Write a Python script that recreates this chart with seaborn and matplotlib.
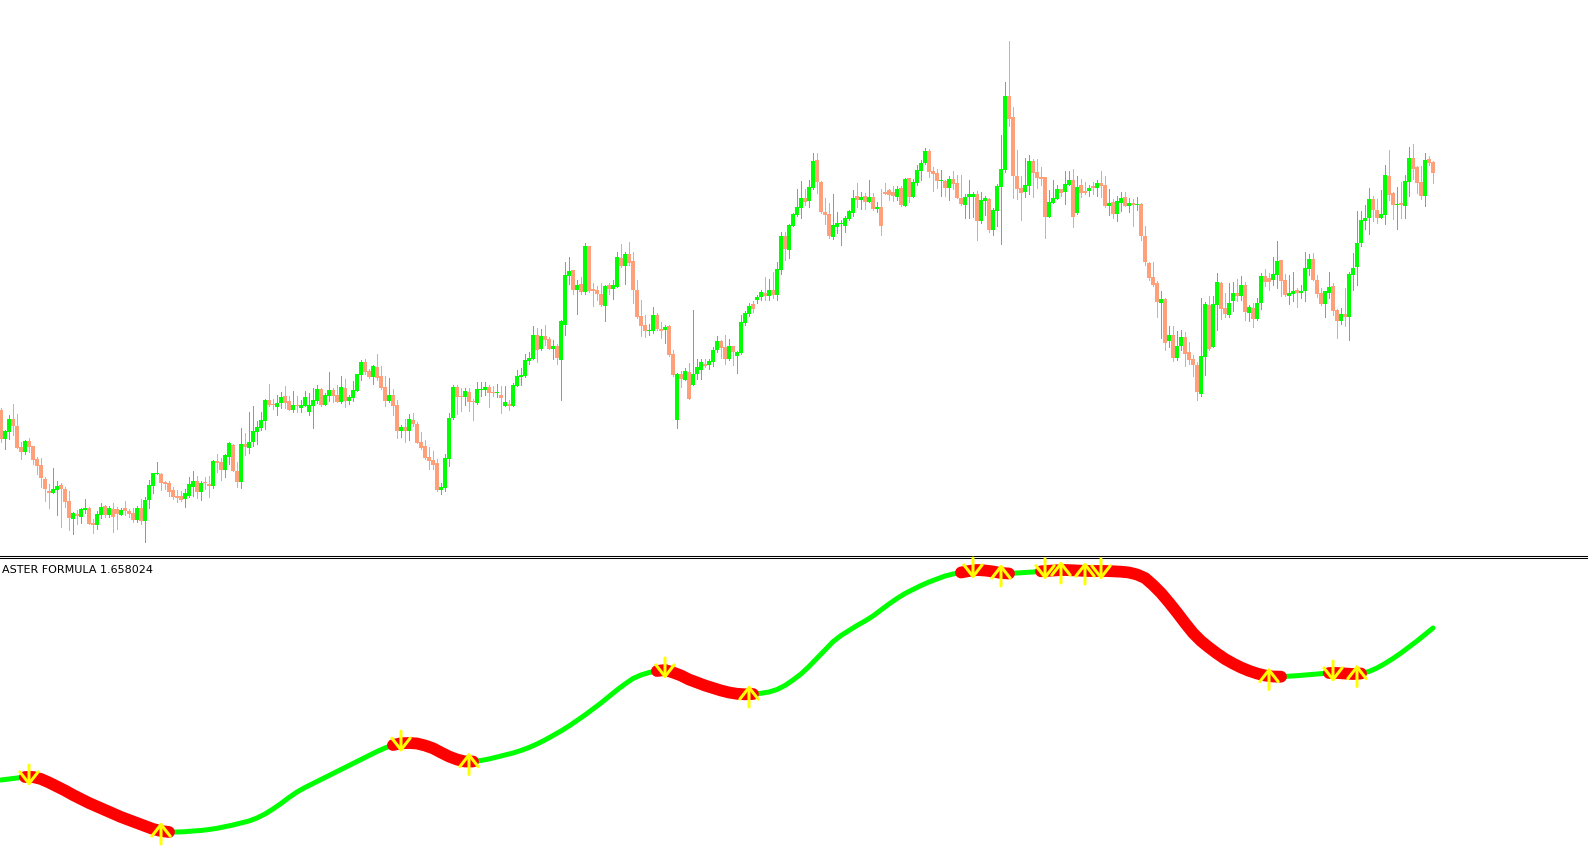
import matplotlib
matplotlib.use('Agg')
import matplotlib.pyplot as plt
import matplotlib.transforms as mtransforms
import seaborn as sns
import pandas as pd
import numpy as np

#candles, one per bar (price units)
opens = [
    190, 161, 168, 181, 174, 153, 148, 159, 154, 141,
    135, 121, 109, 107, 110, 115, 111, 99, 81, 86,
    83, 90, 92, 77, 75, 85, 94, 85, 91, 91,
    85, 92, 89, 87, 80, 92, 79, 100, 114, 126,
    126, 118, 117, 110, 104, 104, 101, 104, 113, 119,
    108, 118, 116, 114, 139, 138, 130, 143, 155, 129,
    118, 156, 152, 158, 168, 172, 179, 200, 196, 193,
    197, 204, 199, 190, 195, 192, 194, 188, 194, 199,
    211, 195, 204, 210, 205, 198, 212, 199, 202, 209,
    225, 238, 229, 223, 233, 224, 213, 199, 205, 195,
    169, 173, 169, 180, 176, 158, 154, 143, 140, 137,
    110, 112, 141, 182, 213, 204, 203, 208, 199, 197,
    210, 210, 213, 208, 207, 205, 194, 196, 194, 214,
    223, 224, 239, 241, 265, 251, 264, 261, 251, 254,
    240, 275, 324, 330, 310, 316, 308, 354, 311, 310,
    306, 294, 315, 311, 313, 342, 334, 346, 339, 310,
    284, 275, 269, 269, 285, 271, 270, 274, 246, 180,
    226, 220, 228, 215, 226, 230, 236, 235, 238, 250,
    259, 253, 241, 254, 244, 247, 277, 286, 296, 300,
    303, 307, 304, 310, 305, 330, 364, 350, 374, 385,
    392, 402, 399, 412, 440, 418, 388, 386, 363, 373,
    376, 374, 381, 387, 404, 400, 404, 398, 403, 391,
    393, 408, 410, 408, 403, 412, 394, 422, 403, 417,
    429, 437, 449, 429, 427, 419, 419, 412, 421, 417,
    402, 395, 403, 403, 406, 379, 399, 401, 370, 389,
    413, 430, 504, 483, 424, 412, 408, 414, 439, 428,
    423, 423, 383, 397, 401, 411, 408, 415, 420, 387,
    415, 409, 409, 414, 412, 417, 415, 394, 398, 386,
    397, 403, 394, 397, 395, 396, 364, 337, 323, 317,
    297, 301, 259, 265, 242, 254, 263, 248, 241, 235,
    206, 243, 295, 253, 295, 317, 292, 285, 299, 307,
    304, 315, 287, 292, 281, 297, 324, 322, 320, 325,
    340, 320, 304, 306, 310, 307, 309, 331, 341, 320,
    307, 296, 307, 314, 290, 279, 286, 283, 325, 333,
    357, 379, 382, 401, 390, 382, 385, 424, 407, 395,
    397, 394, 418, 442, 433, 418, 404, 441, 438,
]
highs = [
    192, 170, 185, 196, 186, 158, 160, 162, 154, 143,
    142, 123, 116, 132, 119, 117, 113, 109, 88, 90,
    92, 101, 93, 81, 89, 97, 95, 94, 97, 93,
    92, 99, 91, 92, 94, 101, 103, 120, 127, 138,
    127, 119, 119, 113, 110, 109, 111, 123, 129, 124,
    119, 123, 124, 140, 146, 142, 146, 158, 156, 138,
    172, 167, 188, 194, 179, 188, 201, 216, 201, 205,
    208, 214, 204, 209, 204, 200, 209, 207, 212, 215,
    212, 207, 228, 212, 215, 224, 221, 205, 219, 226,
    240, 241, 231, 235, 246, 234, 224, 222, 211, 200,
    175, 181, 186, 187, 178, 168, 160, 153, 149, 141,
    117, 146, 187, 215, 215, 212, 212, 212, 201, 218,
    218, 218, 215, 214, 216, 214, 214, 200, 217, 230,
    232, 246, 248, 274, 272, 271, 275, 263, 260, 256,
    280, 338, 343, 330, 320, 323, 357, 354, 317, 314,
    317, 315, 317, 320, 348, 356, 348, 358, 348, 320,
    300, 285, 276, 293, 287, 278, 275, 275, 250, 227,
    229, 232, 237, 290, 241, 241, 241, 241, 253, 264,
    260, 265, 261, 254, 249, 285, 289, 297, 299, 305,
    310, 323, 321, 328, 338, 368, 368, 376, 387, 411,
    419, 411, 420, 447, 447, 419, 402, 397, 406, 388,
    380, 384, 390, 410, 417, 408, 407, 420, 407, 398,
    411, 417, 411, 414, 414, 414, 422, 422, 421, 435,
    440, 452, 451, 433, 431, 430, 420, 424, 429, 425,
    425, 406, 420, 408, 409, 408, 404, 402, 392, 416,
    465, 518, 559, 493, 450, 424, 442, 445, 441, 441,
    433, 423, 410, 420, 415, 411, 429, 429, 431, 424,
    421, 418, 415, 418, 420, 429, 424, 411, 401, 404,
    408, 408, 402, 401, 403, 397, 374, 338, 338, 319,
    309, 302, 274, 274, 269, 270, 268, 258, 245, 238,
    302, 298, 304, 304, 327, 318, 307, 317, 318, 321,
    324, 318, 295, 297, 302, 327, 331, 327, 343, 359,
    340, 326, 325, 328, 312, 315, 348, 346, 347, 325,
    312, 309, 328, 317, 291, 292, 312, 328, 347, 389,
    389, 395, 412, 404, 401, 410, 435, 450, 408, 413,
    418, 425, 453, 456, 434, 434, 447, 444, 439,
]
lows = [
    158, 151, 161, 165, 152, 141, 146, 148, 136, 126,
    113, 99, 92, 107, 85, 73, 93, 70, 66, 76,
    77, 87, 76, 67, 71, 82, 83, 83, 68, 71,
    85, 85, 83, 78, 78, 76, 58, 92, 107, 126,
    110, 111, 104, 101, 98, 99, 93, 103, 104, 102,
    100, 111, 103, 112, 128, 120, 123, 136, 129, 113,
    112, 145, 147, 154, 156, 170, 171, 194, 191, 185,
    192, 192, 190, 188, 188, 188, 194, 185, 172, 197,
    194, 195, 199, 198, 198, 197, 193, 196, 199, 209,
    220, 226, 222, 216, 220, 211, 194, 198, 185, 162,
    163, 158, 160, 174, 157, 151, 141, 131, 131, 109,
    106, 109, 134, 181, 186, 189, 195, 189, 180, 196,
    204, 205, 193, 204, 203, 187, 194, 190, 194, 214,
    215, 223, 236, 241, 238, 250, 255, 251, 241, 236,
    200, 265, 316, 306, 286, 306, 306, 308, 294, 300,
    294, 279, 306, 301, 313, 333, 316, 335, 297, 282,
    264, 263, 265, 267, 270, 262, 257, 244, 224, 172,
    213, 220, 201, 215, 221, 221, 233, 231, 234, 248,
    242, 236, 240, 235, 227, 246, 275, 284, 288, 297,
    300, 300, 300, 302, 300, 326, 340, 342, 374, 384,
    382, 395, 393, 411, 407, 387, 376, 362, 361, 367,
    355, 368, 380, 384, 393, 391, 391, 398, 390, 388,
    365, 406, 400, 399, 400, 394, 394, 398, 403, 415,
    420, 436, 423, 409, 412, 404, 404, 400, 411, 402,
    395, 382, 382, 383, 360, 377, 385, 368, 365, 374,
    356, 428, 474, 402, 401, 380, 403, 406, 403, 412,
    415, 362, 383, 397, 401, 404, 396, 415, 373, 386,
    403, 406, 404, 406, 404, 403, 393, 385, 382, 379,
    389, 394, 388, 374, 390, 360, 335, 320, 314, 283,
    262, 250, 253, 239, 240, 250, 234, 236, 224, 200,
    204, 225, 250, 253, 270, 281, 283, 283, 289, 299,
    300, 280, 279, 273, 280, 291, 314, 310, 315, 312,
    304, 304, 296, 299, 293, 302, 299, 325, 320, 303,
    295, 283, 302, 285, 262, 276, 274, 260, 310, 315,
    354, 371, 366, 379, 377, 382, 376, 400, 381, 371,
    382, 382, 404, 421, 407, 401, 394, 435, 417,
]
closes = [
    161, 169, 181, 174, 152, 148, 159, 153, 140, 134,
    122, 111, 107, 111, 114, 111, 98, 82, 87, 84,
    91, 92, 76, 75, 86, 93, 85, 92, 83, 86,
    90, 89, 86, 80, 92, 79, 100, 115, 127, 127,
    117, 116, 108, 103, 102, 100, 107, 116, 119, 108,
    117, 117, 114, 139, 137, 130, 145, 157, 129, 118,
    156, 153, 158, 169, 173, 180, 200, 195, 195, 197,
    203, 197, 190, 195, 194, 195, 203, 195, 200, 211,
    195, 205, 210, 204, 198, 213, 199, 203, 210, 226,
    238, 228, 223, 234, 222, 212, 199, 205, 194, 169,
    173, 169, 181, 176, 157, 152, 142, 139, 135, 110,
    113, 142, 182, 213, 203, 203, 209, 198, 198, 211,
    211, 213, 207, 207, 208, 202, 198, 194, 215, 224,
    225, 240, 242, 265, 250, 264, 260, 251, 254, 242,
    279, 325, 329, 310, 315, 308, 354, 309, 309, 306,
    295, 314, 311, 315, 343, 334, 346, 337, 310, 283,
    274, 269, 270, 285, 271, 269, 273, 245, 225, 226,
    221, 229, 201, 226, 233, 238, 234, 239, 250, 259,
    252, 241, 254, 248, 248, 278, 287, 294, 291, 303,
    308, 304, 310, 305, 331, 364, 351, 375, 386, 393,
    402, 398, 413, 439, 418, 388, 385, 364, 375, 377,
    377, 382, 389, 402, 400, 403, 398, 403, 391, 393,
    374, 406, 405, 404, 411, 395, 421, 403, 418, 430,
    437, 449, 428, 426, 419, 420, 412, 421, 416, 402,
    396, 403, 406, 406, 379, 400, 402, 370, 390, 414,
    431, 504, 481, 424, 411, 407, 415, 439, 427, 422,
    421, 383, 398, 402, 411, 407, 416, 420, 383, 413,
    407, 407, 412, 412, 417, 414, 394, 397, 386, 399,
    402, 394, 397, 395, 396, 364, 338, 322, 315, 298,
    301, 257, 265, 242, 254, 263, 246, 240, 235, 208,
    244, 296, 251, 296, 318, 291, 286, 297, 307, 304,
    315, 288, 293, 281, 297, 324, 318, 318, 326, 339,
    319, 305, 307, 309, 307, 309, 332, 341, 320, 306,
    296, 309, 313, 289, 279, 286, 283, 326, 332, 357,
    380, 382, 401, 390, 382, 386, 425, 405, 395, 396,
    395, 419, 442, 431, 417, 404, 440, 437, 427,
]

#indicator value on every second bar
indicator = [
    70, 71, 72, 73, 73, 71, 67.5, 63.5, 59.5, 55,
    51, 47, 43.5, 40, 36.5, 33, 30, 27, 24, 21,
    19, 18, 18, 18.3, 19, 19.5, 20.5, 21.7, 23.3, 25,
    27, 29, 32, 36, 41, 46.5, 52.5, 58, 62.5, 66.5,
    70.5, 74.5, 78.5, 82.5, 86.5, 90.5, 94.5, 98.5, 102, 105,
    106.7, 107, 106.5, 104.5, 101.7, 97.5, 93.5, 90.5, 88.5, 88.5,
    89.5, 91, 93, 95, 97, 99.5, 102.5, 106, 110, 114.5,
    119, 124, 129.5, 135, 141, 147, 153.5, 160, 166, 171.5,
    175, 177.5, 179, 180, 177.5, 174.5, 170.5, 167.5, 164.5, 162,
    159.5, 157.5, 156.2, 155.7, 156, 156.7, 158, 160.5, 164.5, 170,
    176, 183.5, 191.7, 200, 208.3, 214.5, 219.5, 224.5, 229, 234,
    240, 246, 251.5, 256.5, 260.5, 264.5, 268, 271, 274, 276,
    277.5, 279, 280, 279.5, 278.5, 277, 276.5, 277, 277.5, 278,
    278.7, 279.2, 279.7, 280, 279.7, 279.3, 279, 279, 279, 278.7,
    278.3, 277.5, 275.5, 272, 265, 257, 247.5, 237.5, 227, 217,
    209, 202.5, 196.5, 191, 186.5, 182.5, 179.2, 176.5, 174.5, 173.5,
    173.3, 173.8, 174.3, 175, 175.7, 176.4, 177, 177, 176.5, 176,
    176.5, 178.5, 182, 186.5, 191.5, 197, 203, 209, 215.5, 222,
]
#bar ranges where the indicator is drawn red
red_spans = [(6, 42), (98, 118), (164, 188), (240, 252), (260, 320), (332, 340)]
#signal arrows
arrow_bars = [7, 40, 100, 117, 166, 187, 243, 250, 261, 265, 271, 275, 317, 333, 339]
arrow_dirs = ['down', 'up', 'down', 'up', 'down', 'up', 'down', 'up',
              'down', 'up', 'up', 'down', 'up', 'down', 'up']

label = "ASTER FORMULA 1.658024"

UP_COL = "#00FF00"
DOWN_COL = "#FFA07A"

sns.set_style("white")
plt.rcParams['font.family'] = ['DejaVu Sans']

W, H = 1588, 846
fig = plt.figure(figsize=(W / 100, H / 100), dpi=100)
fig.patch.set_facecolor("white")

ax_top = fig.add_axes([0, 1 - 555.5 / H, 1, 555.5 / H])
ax_ind = fig.add_axes([0, 0, 1, (H - 557.5) / H])

#candles
bars = np.arange(len(closes))
o = np.array(opens, dtype=float)
c = np.array(closes, dtype=float)
colors = [UP_COL if cc >= oo else DOWN_COL for oo, cc in zip(o, c)]
bottoms = np.minimum(o, c)
heights = np.maximum(np.abs(c - o), 1.0)

ax_top.vlines(bars, lows, highs, colors=colors, linewidth=0.72, antialiased=False)
ax_top.bar(bars, heights, bottom=bottoms, width=0.8, color=colors, linewidth=0, antialiased=False)
ax_top.set_xlim(-0.25, 396.75)
ax_top.set_ylim(44.5, 600)

#indicator line
ind_df = pd.DataFrame({"bar": np.arange(0, 2 * len(indicator), 2), "value": indicator})
sns.lineplot(data=ind_df, x="bar", y="value", ax=ax_ind, color=UP_COL, linewidth=3.6,
             estimator=None, sort=False, solid_capstyle="round", zorder=2)
for a, b in red_spans:
    seg = ind_df[(ind_df["bar"] >= a) & (ind_df["bar"] <= b)]
    sns.lineplot(data=seg, x="bar", y="value", ax=ax_ind, color="#FF0000", linewidth=8.5,
                 estimator=None, sort=False, solid_capstyle="round", zorder=3)

#arrows, tip/tail offsets in pixels from the line
for bar, d in zip(arrow_bars, arrow_dirs):
    v = indicator[int(bar / 2 + 0.5)]
    if d == 'down':
        tip, tail = -9, 12
    else:
        tip, tail = 9, -13
    trans = mtransforms.offset_copy(ax_ind.transData, fig=fig, x=0, y=tip, units='dots')
    ax_ind.annotate("", xy=(bar, v), xycoords=trans, xytext=(0, tail - tip),
                    textcoords='offset pixels', zorder=5,
                    arrowprops=dict(arrowstyle="->,head_length=0.7,head_width=0.55",
                                    color="#FFFF00", lw=2.2, mutation_scale=12,
                                    shrinkA=0, shrinkB=0))

ax_ind.set_xlim(-0.25, 396.75)
ax_ind.set_ylim(4, 292.5)

for ax in (ax_top, ax_ind):
    ax.set_xticks([])
    ax.set_yticks([])
    ax.set_xlabel("")
    ax.set_ylabel("")
    ax.set_facecolor("white")
    for s in ax.spines.values():
        s.set_visible(False)
ax_top.spines["bottom"].set_visible(True)
ax_top.spines["bottom"].set_color("black")
ax_top.spines["bottom"].set_linewidth(0.75)
ax_ind.spines["top"].set_visible(True)
ax_ind.spines["top"].set_color("black")
ax_ind.spines["top"].set_linewidth(0.75)

fig.text(1.5 / W, 1 - 573 / H, label, fontsize=8, color="black", ha="left", va="baseline")

fig.savefig("out.png", dpi=100, facecolor="white")
